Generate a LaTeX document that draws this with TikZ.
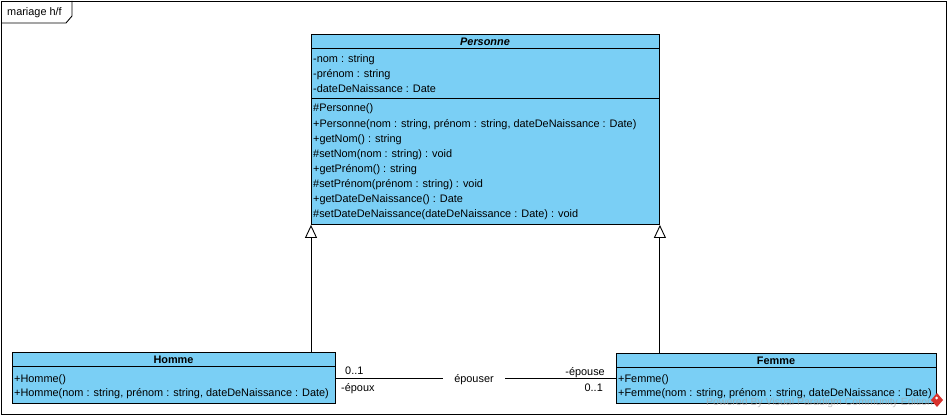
\documentclass[tikz,border=0pt]{standalone}
\usepackage{fontspec}
\setmainfont{Liberation Sans}
\usetikzlibrary{arrows.meta}
\definecolor{vpblue}{RGB}{122,207,245}
\definecolor{wmgray}{RGB}{165,165,165}
\definecolor{wmred}{RGB}{215,50,45}
\tikzset{
  cls/.style={draw=black, fill=vpblue, line width=0.9pt, anchor=north west, inner sep=0pt},
  sep/.style={line width=0.9pt},
  mem/.style={anchor=base west, inner sep=0pt, font=\fontsize{10.9}{12}\selectfont},
  ttl/.style={inner sep=0pt, anchor=base, font=\fontsize{10.9}{12}\selectfont\bfseries},
  lbl/.style={inner sep=0pt, anchor=base, font=\fontsize{10.9}{12}\selectfont},
  gen/.style={line width=0.9pt, -{Triangle[open, length=13pt, width=12pt]}},
  assoc/.style={line width=0.9pt},
}
\begin{document}
\begin{tikzpicture}[x=1pt,y=-1pt]
\useasboundingbox (0,0) rectangle (949,417);
\fill[white] (0,0) rectangle (949,417);
% frame
\draw[line width=0.9pt] (1,1) rectangle (946,414);
\draw[line width=0.9pt] (1,23) -- (66,23) -- (72,16) -- (72,1);
\node[lbl, anchor=base west] (frametitle) at (7,16) {mariage h/f};

% Personne
\node[cls, minimum width=348pt, minimum height=190pt] (pers) at (311,34) {};
\draw[sep] (311,48) -- (659,48);
\draw[sep] (311,98) -- (659,98);
\node[ttl, font=\fontsize{10.9}{12}\selectfont\bfseries\itshape] (perst) at (485,45.5) {Personne};
\node[mem] (pa1) at (313,63) {-nom : string};
\node[mem] (pa2) at (313,78) {-prénom : string};
\node[mem] (pa3) at (313,93) {-dateDeNaissance : Date};
\node[mem] (po1) at (313,112) {\#Personne()};
\node[mem] (po2) at (313,127) {+Personne(nom : string, prénom : string, dateDeNaissance : Date)};
\node[mem] (po3) at (313,142) {+getNom() : string};
\node[mem] (po4) at (313,157) {\#setNom(nom : string) : void};
\node[mem] (po5) at (313,172) {+getPrénom() : string};
\node[mem] (po6) at (313,187) {\#setPrénom(prénom : string) : void};
\node[mem] (po7) at (313,202) {+getDateDeNaissance() : Date};
\node[mem] (po8) at (313,217) {\#setDateDeNaissance(dateDeNaissance : Date) : void};

% Homme
\node[cls, minimum width=323pt, minimum height=51pt] (homme) at (12,352) {};
\draw[sep] (12,366.5) -- (335,366.5);
\node[ttl] (hommet) at (173.5,363.5) {Homme};
\node[mem] (ho1) at (14,382) {+Homme()};
\node[mem] (ho2) at (14,396) {+Homme(nom : string, prénom : string, dateDeNaissance : Date)};

% Femme
\node[cls, minimum width=320pt, minimum height=50pt] (femme) at (616,353) {};
\draw[sep] (616,367) -- (936,367);
\node[ttl] (femmet) at (776,364) {Femme};
\node[mem] (fe1) at (618,382) {+Femme()};
\node[mem] (fe2) at (618,396) {+Femme(nom : string, prénom : string, dateDeNaissance : Date)};

% generalizations
\draw[gen] (homme.north west -| pers.south west) -- (pers.south west);
\draw[gen] (femme.north west -| pers.south east) -- (pers.south east);

% association
\node[lbl] (assoclbl) at (474,382) {épouser};
\coordinate (hA) at (335,378);
\coordinate (fA) at (616,378);
\coordinate (gapL) at (443,378);
\coordinate (gapR) at (505,378);
\draw[assoc] (hA) -- (gapL);
\draw[assoc] (gapR) -- (fA);
\node[lbl, anchor=base west] (m1) at (345,374) {0..1};
\node[lbl, anchor=base west] (r1) at (341,391) {-époux};
\node[lbl, anchor=base east] (r2) at (605,375) {-épouse};
\node[lbl, anchor=base east] (m2) at (603,391) {0..1};

% watermark
\node[inner sep=0pt, anchor=base west, text=wmgray, font=\fontsize{10.5}{12}\selectfont, opacity=0.7] (wm) at (706,405) {Powered By Visual Paradigm Community Edition};
\fill[wmred] (937,393) -- (943,400) -- (937,407) -- (931,400) -- cycle;
\fill[white] (936.5,398) circle (1.5);
\end{tikzpicture}
\end{document}
